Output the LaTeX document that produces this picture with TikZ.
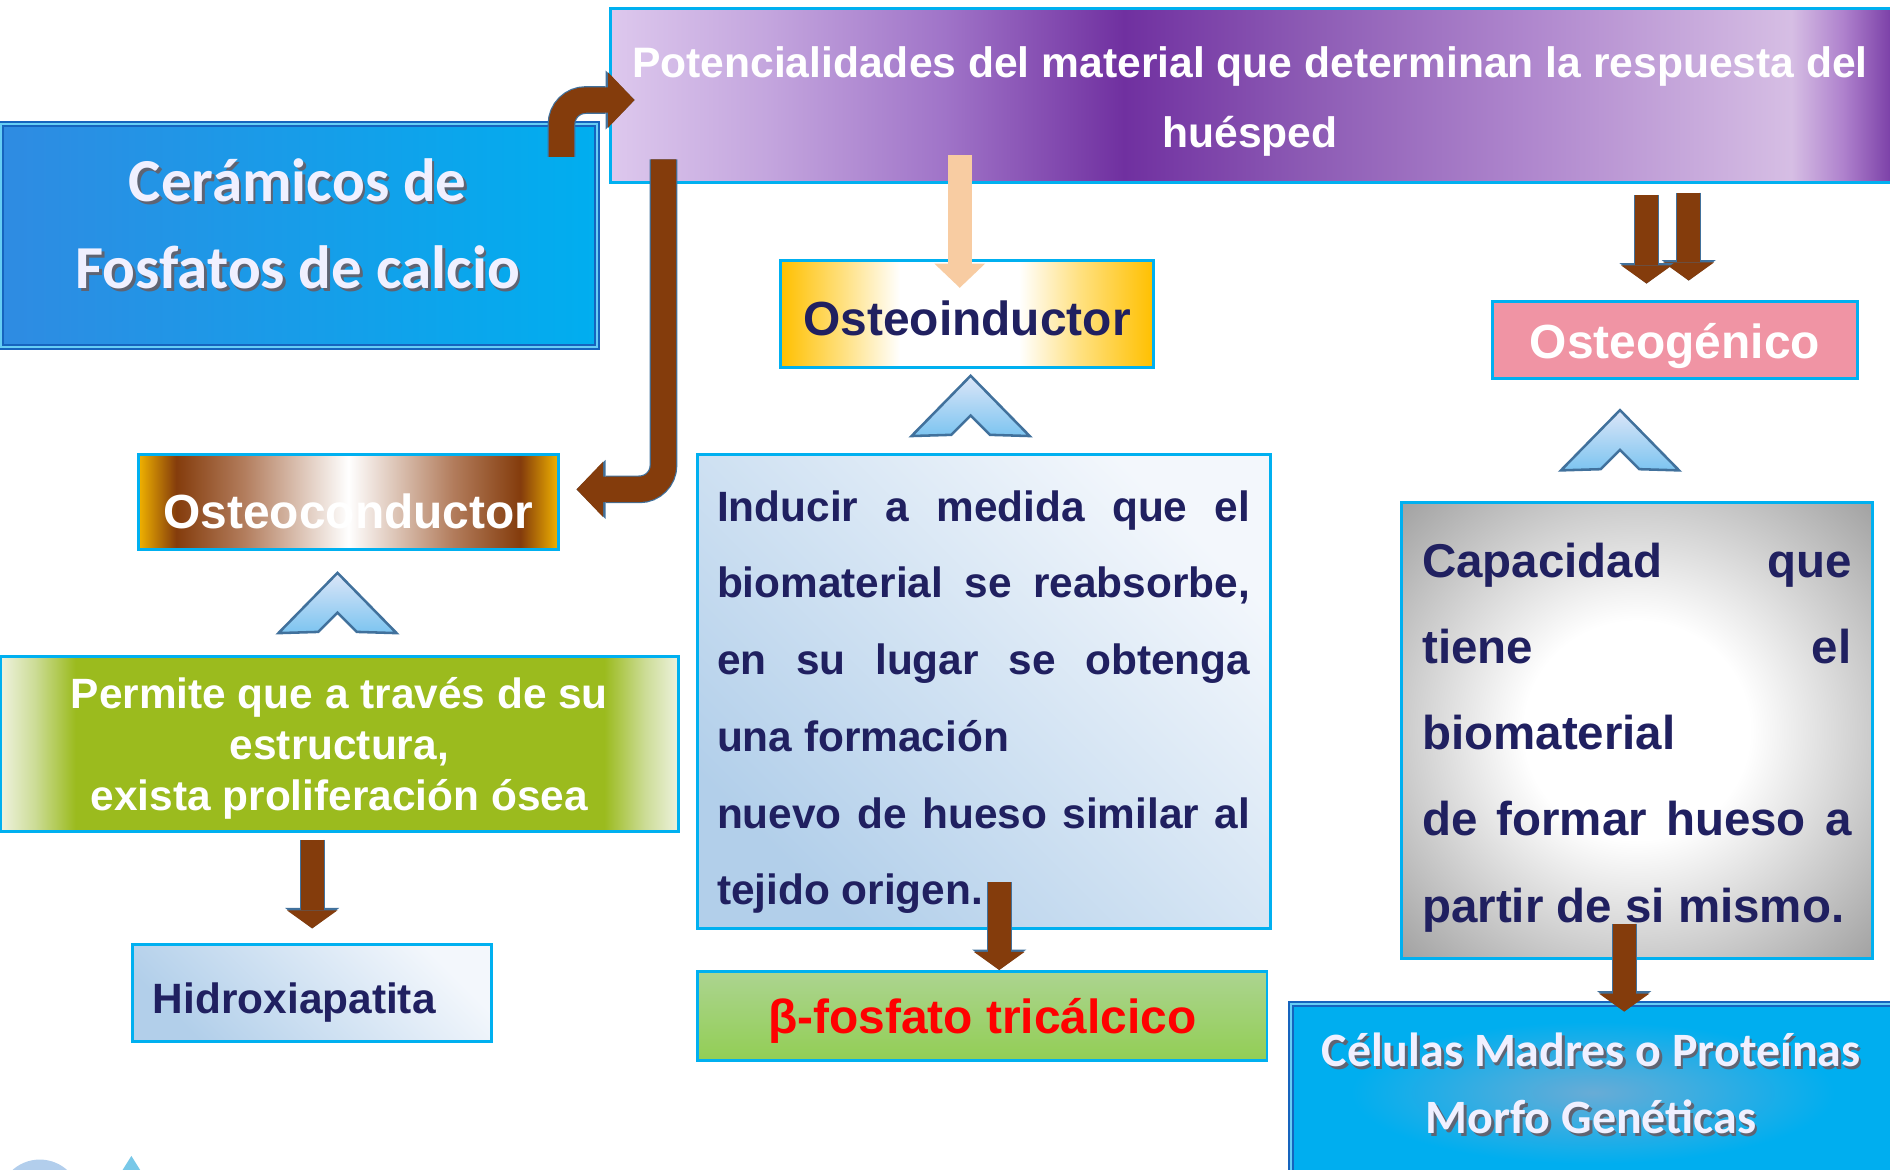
\documentclass[tikz,border=0pt]{standalone}
\usepackage{fontspec}
\setmainfont{Liberation Sans}
\newfontfamily\calib{Carlito}
\usetikzlibrary{arrows.meta,calc}

% colours
\definecolor{boxcyan}{RGB}{0,176,240}
\definecolor{arrbrown}{RGB}{132,60,12}
\definecolor{arrline}{RGB}{65,113,156}
\definecolor{peach}{RGB}{248,204,162}
\definecolor{navytext}{RGB}{32,32,96}
\definecolor{ceramleft}{RGB}{47,139,226}
\definecolor{ceramright}{RGB}{0,174,239}
\definecolor{bluedge}{RGB}{22,100,190}
\definecolor{shadowgray}{RGB}{95,100,115}
\definecolor{pu0}{RGB}{221,200,237}
\definecolor{pu1}{RGB}{196,166,222}
\definecolor{pu2}{RGB}{160,116,200}
\definecolor{pu3}{RGB}{112,48,160}
\definecolor{pu4}{RGB}{140,90,180}
\definecolor{pu5}{RGB}{176,136,206}
\definecolor{pu6}{RGB}{214,190,228}
\definecolor{pu7}{RGB}{175,130,205}
\definecolor{pu8}{RGB}{120,60,165}
\definecolor{or1}{RGB}{240,178,0}
\definecolor{tan1}{RGB}{178,124,92}
\definecolor{gold1}{RGB}{255,192,0}
\definecolor{gold2}{RGB}{255,225,130}
\definecolor{pink1}{RGB}{240,148,164}
\definecolor{gr0}{RGB}{238,242,222}
\definecolor{gr1}{RGB}{204,220,150}
\definecolor{gr2}{RGB}{155,187,30}
\definecolor{pale1}{RGB}{243,247,252}
\definecolor{pale2}{RGB}{178,207,234}
\definecolor{lime1}{RGB}{172,212,144}
\definecolor{lime2}{RGB}{146,206,84}
\definecolor{capgray}{RGB}{155,155,155}
\definecolor{celblue}{RGB}{0,174,239}
\definecolor{celmid}{RGB}{104,172,214}
\definecolor{chevtop}{RGB}{220,230,248}
\definecolor{chevbot}{RGB}{124,196,240}
\definecolor{fragblue}{RGB}{178,206,236}
\definecolor{fragcyan}{RGB}{120,200,232}

% shadings
\pgfdeclarehorizontalshading{purpband}{100bp}{color(0bp)=(pu0); color(25bp)=(pu0); color(31bp)=(pu1); color(38bp)=(pu2); color(45bp)=(pu3); color(52bp)=(pu4); color(61bp)=(pu5); color(71bp)=(pu6); color(73bp)=(pu7); color(75bp)=(pu8); color(100bp)=(pu8)}
\pgfdeclarehorizontalshading{brownband}{100bp}{color(0bp)=(or1); color(25bp)=(or1); color(29.5bp)=(arrbrown); color(37.5bp)=(tan1); color(50bp)=(white); color(62.5bp)=(tan1); color(70.5bp)=(arrbrown); color(75bp)=(or1); color(100bp)=(or1)}
\pgfdeclarehorizontalshading{goldband}{100bp}{color(0bp)=(gold1); color(25bp)=(gold1); color(33.5bp)=(gold2); color(41bp)=(white); color(57bp)=(white); color(65bp)=(gold2); color(75bp)=(gold1); color(100bp)=(gold1)}
\pgfdeclarehorizontalshading{greenband}{100bp}{color(0bp)=(gr0); color(25bp)=(gr0); color(27.5bp)=(gr1); color(30.5bp)=(gr2); color(69.5bp)=(gr2); color(72.5bp)=(gr1); color(75bp)=(gr0); color(100bp)=(gr0)}
\pgfdeclareradialshading{grayglow}{\pgfpoint{0bp}{0bp}}{color(0bp)=(white); color(12bp)=(white); color(37bp)=(capgray); color(50bp)=(capgray)}
\pgfdeclareradialshading{blueglow}{\pgfpoint{0bp}{0bp}}{color(0bp)=(celmid); color(20bp)=(celblue); color(50bp)=(celblue)}

% white text with a drop shadow
\newcommand\shtxt[1]{\makebox[0pt][l]{\kern0.6pt\raisebox{-0.6pt}{\textcolor{shadowgray}{#1}}}#1}

\tikzset{
  box/.style={draw=boxcyan, line width=0.7pt, inner sep=0pt},
  bluebox/.style={draw=bluedge, line width=0.4pt, double=ceramright!60!white, double distance=0.5pt, inner sep=0pt},
  labelfont/.style={font=\bfseries\fontsize{11.3}{13}\selectfont},
  brarrow/.style={draw=arrbrown, line width=0.19cm, -{Triangle[width=0.42cm,length=0.15cm,line width=0pt]},
    preaction={draw=arrline, line width=0.21cm, -{Triangle[width=0.45cm,length=0.17cm,line width=0pt]}}},
  bentarrow/.style={draw=arrbrown, line width=0.21cm, rounded corners=0.2cm, -{Triangle[width=0.46cm,length=0.22cm,line width=0pt]},
    preaction={draw=arrline, line width=0.23cm, -{Triangle[width=0.49cm,length=0.24cm,line width=0pt]}}},
  peacharrow/.style={draw=peach, line width=0.2cm, -{Triangle[width=0.42cm,length=0.2cm,line width=0pt]}},
  chevron/.pic={\draw[arrline, line width=0.6pt, top color=chevtop, bottom color=chevbot]
    (0,0) -- (-49,50) -- (-16,49) -- (0,33) -- (16,49) -- (49,50) -- cycle;},
}

\begin{document}
\begin{tikzpicture}[x=0.01cm, y=-0.01cm]
  \useasboundingbox (0,0) rectangle (1568,970);
  \clip (0,0) rectangle (1568,970);

  % Ceramicos
  \node[bluebox, left color=ceramleft, right color=ceramright, minimum width=4.94cm, minimum height=1.85cm] (ceram) at (248,195.5) {};
  \node[font=\calib\bfseries\fontsize{14.4}{20.5}\selectfont, text=white!94!blue, align=center, inner sep=0pt] (ceramtxt) at (247,187)
    {\shtxt{Cerámicos de}\\\shtxt{Fosfatos de calcio}};

  % Potencialidades
  \node[box, shade, shading=purpband, minimum width=10.64cm, minimum height=1.44cm] (potenc) at (1039,79) {};
  \node[font=\bfseries\fontsize{10.05}{16.5}\selectfont, text=white, align=center, inner sep=0pt] (potenctxt) at (1037,84)
    {Potencialidades del material que determinan la respuesta del\\huésped};

  % three properties
  \node[box, shade, shading=goldband, labelfont, text=navytext, minimum width=3.085cm, minimum height=0.885cm,
    text height=10.4pt, text depth=0pt] (osteoind) at (802.25,260.25) {Osteoinductor};
  \node[box, fill=pink1, labelfont, text=white, minimum width=3.03cm, minimum height=0.64cm,
    text height=8.6pt, text depth=0pt] (osteog) at (1389.5,282) {Osteogénico};
  \node[box, shade, shading=brownband, labelfont, text=white, minimum width=3.48cm, minimum height=0.79cm,
    text height=12.4pt, text depth=0pt] (osteocond) at (289,416.5) {Osteoconductor};

  % Osteoconductor branch
  \node[box, shade, shading=greenband, minimum width=5.62cm, minimum height=1.45cm] (permite) at (282,617.5) {};
  \node[font=\bfseries\fontsize{10}{12.1}\selectfont, text=white, align=center, inner sep=0pt] (permitetxt) at (281.5,621)
    {Permite que a través de su\\estructura,\\exista proliferación ósea};
  \node[box, top color=pale1, bottom color=pale2, shading angle=-45, minimum width=2.98cm, minimum height=0.8cm,
    text width=2.64cm, align=left, inner xsep=0.17cm, font=\bfseries\fontsize{10}{12}\selectfont, text=navytext,
    text height=9.4pt, text depth=0pt] (hidro) at (259,824) {Hidroxiapatita};

  % Osteoinductor branch
  \node[box, top color=pale1, bottom color=pale2, shading angle=-45, minimum width=4.75cm, minimum height=3.93cm] (induc) at (816.5,573.5) {};
  \node[text width=4.42cm, align=justify, inner sep=0pt, font=\bfseries\fontsize{10}{18.1}\selectfont, text=navytext] (inductxt) at (816,582.5)
    {Inducir a medida que el\linebreak biomaterial se reabsorbe,\linebreak en su lugar se obtenga\linebreak una formación\\
     nuevo de hueso similar al\linebreak tejido origen.};
  \node[box, top color=lime1, bottom color=lime2, labelfont, text=red, minimum width=4.72cm, minimum height=0.74cm,
    text height=8pt, text depth=0pt] (beta) at (815,843) {β-fosfato tricálcico};

  % Osteogenico branch
  \node[box, shade, shading=grayglow, minimum width=3.9cm, minimum height=3.78cm] (capac) at (1358,606) {};
  \node[text width=3.56cm, align=justify, inner sep=0pt, font=\bfseries\fontsize{11.2}{20.3}\selectfont, text=navytext] (capactxt) at (1358,612)
    {Capacidad que\linebreak tiene el\linebreak biomaterial\\ de formar hueso a\linebreak partir de si mismo.};
  \node[bluebox, shade, shading=blueglow, minimum width=5.01cm, minimum height=1.47cm] (celul) at (1321.5,906.5) {};
  \node[font=\calib\bfseries\fontsize{11.3}{15.9}\selectfont, text=white!94!blue, align=center, inner sep=0pt] (celultxt) at (1320,900)
    {\shtxt{Células Madres o Proteínas}\\\shtxt{Morfo Genéticas}};

  % chevrons
  \pic at ($(osteoind.south)+(3,6)$) {chevron};
  \pic at ($(osteocond.south)+(-9,18)$) {chevron};
  \pic at ($(osteog.south)+(-45.5,25)$) {chevron};

  % arrows
  \draw[bentarrow] ($(ceram.north east)+(-30,28)$) |- ($(potenc.west)+(21,4)$);
  \draw[bentarrow] ($(potenc.south west)+(45,-20)$) |- ($(osteocond.east)+(14,-10.5)$);
  \draw[peacharrow] ($(osteoind.north)+(-6,-86)$) -- ($(osteoind.north)+(-6,24)$);
  \draw[brarrow] ($(osteog.north)+(11.5,-89)$) -- ($(osteog.north)+(11.5,-16)$);
  \draw[brarrow] ($(osteog.north)+(-23.5,-87)$) -- ($(osteog.north)+(-23.5,-13.5)$);
  \draw[brarrow] ($(hidro.north)+(0,-86)$) -- ($(hidro.north)+(0,-12.5)$);
  \draw[brarrow] ($(beta.north)+(14,-73)$) -- ($(beta.north)+(14,0)$);
  \draw[brarrow] ($(celul.north)+(26,-66)$) -- ($(celul.north)+(26,7)$);

  % bits of a logo cut by the lower edge
  \fill[fragblue] (33,996) circle (34);
  \fill[fragcyan] (109,959) -- (99,975) -- (119,975) -- cycle;
\end{tikzpicture}
\end{document}
